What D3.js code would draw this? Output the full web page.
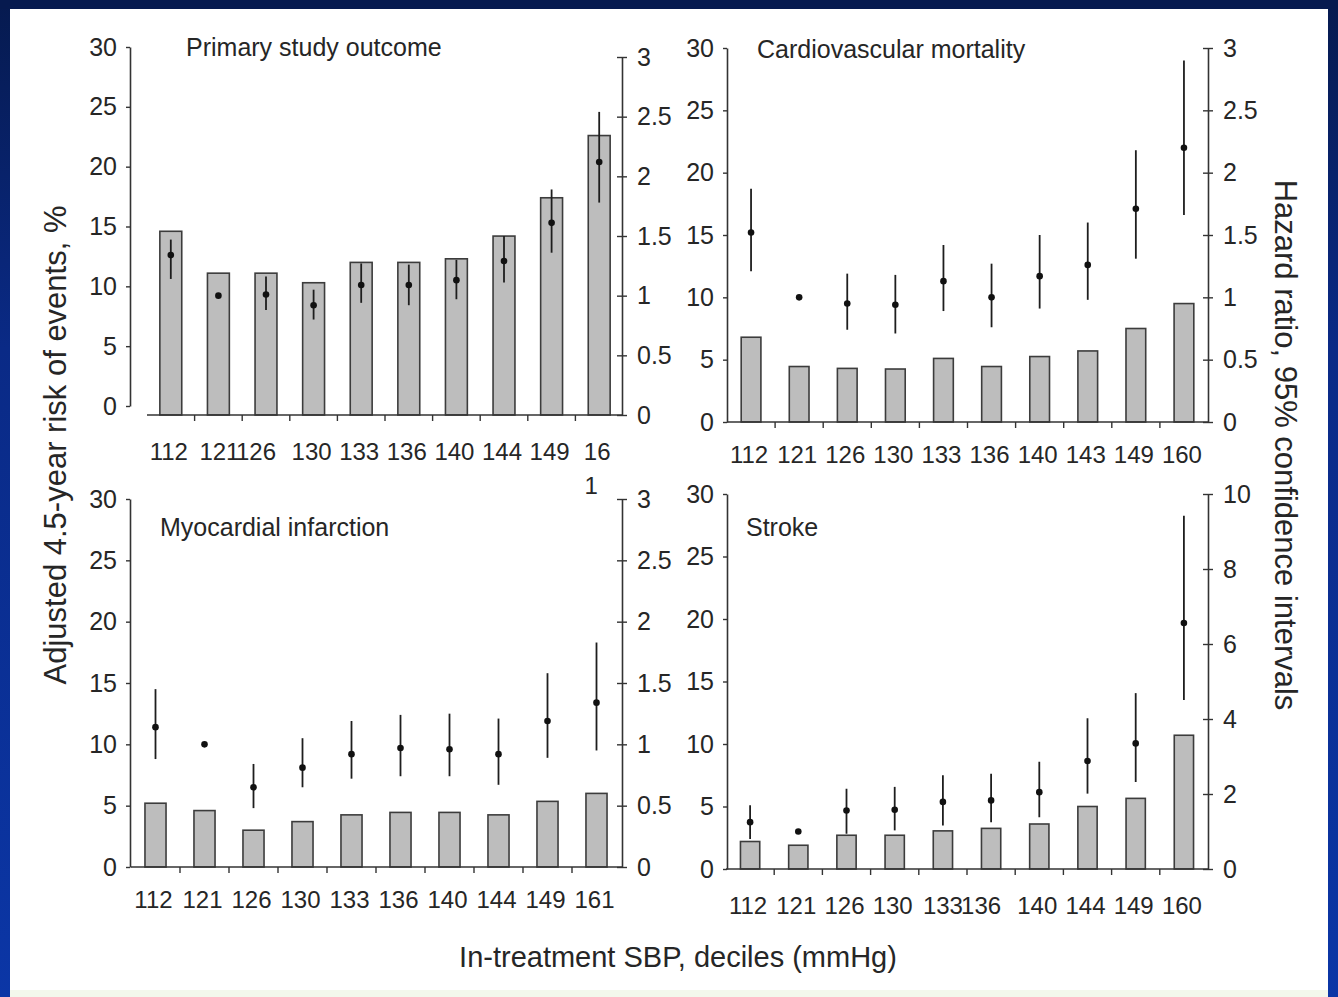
<!DOCTYPE html>
<html>
<head>
<meta charset="utf-8">
<script src="https://cdn.jsdelivr.net/npm/d3@7"></script>
<style>
  body { margin: 0; background: #fff; }
  .tick text { font-family: "Liberation Sans Narrow", "Arial Narrow", "Liberation Sans", Arial, sans-serif; fill: #262626; }
  .ttl { font-family: "Liberation Sans", Arial, sans-serif; fill: #262626; }
</style>
</head>
<body>
<script>
// values
// x categories = in-treatment SBP deciles (mmHg)
var primaryLabels = ["112", "121", "126", "130", "133", "136", "140", "144", "149", "161"];
var primaryRisk   = [14.6, 11.1, 11.1, 10.3, 12.0, 12.0, 12.3, 14.2, 17.4, 22.6];
var primaryHR     = [1.34, 1.00, 1.01, 0.92, 1.09, 1.09, 1.13, 1.29, 1.61, 2.12];
var primaryLo     = [1.14, 1.00, 0.88, 0.80, 0.94, 0.92, 0.97, 1.11, 1.36, 1.78];
var primaryHi     = [1.47, 1.00, 1.16, 1.05, 1.27, 1.26, 1.30, 1.50, 1.89, 2.54];

var cvLabels = ["112", "121", "126", "130", "133", "136", "140", "143", "149", "160"];
var cvRisk   = [6.8, 4.45, 4.3, 4.25, 5.1, 4.45, 5.25, 5.7, 7.5, 9.5];
var cvHR     = [1.52, 1.00, 0.95, 0.94, 1.13, 1.00, 1.17, 1.26, 1.71, 2.20];
var cvLo     = [1.21, 1.00, 0.74, 0.71, 0.89, 0.76, 0.91, 0.98, 1.31, 1.66];
var cvHi     = [1.87, 1.00, 1.19, 1.18, 1.42, 1.27, 1.50, 1.60, 2.18, 2.90];

var miLabels = ["112", "121", "126", "130", "133", "136", "140", "144", "149", "161"];
var miRisk   = [5.2, 4.6, 3.0, 3.7, 4.25, 4.45, 4.45, 4.25, 5.35, 6.0];
var miHR     = [1.14, 1.00, 0.65, 0.81, 0.92, 0.97, 0.96, 0.92, 1.19, 1.34];
var miLo     = [0.88, 1.00, 0.48, 0.65, 0.72, 0.74, 0.74, 0.67, 0.89, 0.95];
var miHi     = [1.45, 1.00, 0.84, 1.05, 1.19, 1.24, 1.25, 1.21, 1.58, 1.83];

var strokeLabels = ["112", "121", "126", "130", "133", "136", "140", "144", "149", "160"];
var strokeRisk   = [2.2, 1.9, 2.7, 2.7, 3.05, 3.25, 3.6, 5.0, 5.65, 10.7];
var strokeHR     = [1.25, 1.00, 1.56, 1.58, 1.79, 1.83, 2.05, 2.88, 3.35, 6.56];
var strokeLo     = [0.80, 1.00, 0.94, 1.03, 1.16, 1.25, 1.38, 2.01, 2.32, 4.51];
var strokeHi     = [1.70, 1.00, 2.14, 2.19, 2.50, 2.54, 2.86, 4.02, 4.69, 9.42];

var riskTicks = [0, 5, 10, 15, 20, 25, 30];
var hrTicks3  = [0, 0.5, 1, 1.5, 2, 2.5, 3];
var hrTicks10 = [0, 2, 4, 6, 8, 10];

var titles = ["Primary study outcome", "Cardiovascular mortality", "Myocardial infarction", "Stroke"];
var yTitleLeft  = "Adjusted 4.5-year risk of events, %";
var yTitleRight = "Hazard ratio, 95% confidence intervals";
var xTitle      = "In-treatment SBP, deciles (mmHg)";

// panel table (data + where each panel sits on the page)
var panels = [
  {title: titles[0], labels: primaryLabels, risk: primaryRisk, hr: primaryHR, lo: primaryLo, hi: primaryHi,
   hrMax: 3, hrTicks: hrTicks3,
   axL: 130, axR: 622, band: [147, 623], pad: 0.54, yL: [406, 47], yR: [415, 57], base: 415,
   labelDy: 37, tx: 186, ty: 48, nudge: {1: 3, 2: -8}, wrapLast: 2},
  {title: titles[1], labels: cvLabels, risk: cvRisk, hr: cvHR, lo: cvLo, hi: cvHi,
   hrMax: 3, hrTicks: hrTicks3,
   axL: 727, axR: 1208, band: [727, 1208], pad: 0.59, yL: [422, 48], yR: [422, 48], base: 422,
   labelDy: 33, tx: 757, ty: 50, nudge: {}},
  {title: titles[2], labels: miLabels, risk: miRisk, hr: miHR, lo: miLo, hi: miHi,
   hrMax: 3, hrTicks: hrTicks3,
   axL: 130, axR: 622, band: [131, 621], pad: 0.57, yL: [867, 499], yR: [867, 499], base: 867,
   labelDy: 33, tx: 160, ty: 528, nudge: {}},
  {title: titles[3], labels: strokeLabels, risk: strokeRisk, hr: strokeHR, lo: strokeLo, hi: strokeHi,
   hrMax: 10, hrTicks: hrTicks10,
   axL: 727, axR: 1208, band: [726, 1208], pad: 0.6, yL: [869, 494], yR: [869, 494], base: 869,
   labelDy: 37, tx: 746, ty: 528, nudge: {4: 2, 5: -8}}
];

var W = 1338, H = 997;
var svg = d3.select("body").append("svg")
    .attr("width", W)
    .attr("height", H);

// slide frame: navy border around a white area
var defs = svg.append("defs");
var grad = defs.append("linearGradient").attr("id", "frame")
    .attr("x1", 0).attr("y1", 0).attr("x2", 0).attr("y2", 1);
grad.append("stop").attr("offset", "0%").attr("stop-color", "#061a4f");
grad.append("stop").attr("offset", "35%").attr("stop-color", "#0a2a86");
grad.append("stop").attr("offset", "100%").attr("stop-color", "#0b36a6");
svg.append("rect").attr("width", W).attr("height", H).attr("fill", "url(#frame)");
svg.append("rect").attr("x", 0).attr("y", 0).attr("width", W).attr("height", 9).attr("fill", "#061a4f");
svg.append("rect").attr("x", 10).attr("y", 9).attr("width", W - 20).attr("height", H - 9).attr("fill", "#ffffff");
svg.append("rect").attr("x", 10).attr("y", 990).attr("width", W - 20).attr("height", 7).attr("fill", "#f3f8ec");

var fmt = d3.format("~g");

panels.forEach(function(p) {
  var g = svg.append("g");

  var x = d3.scaleBand()
      .domain(p.labels)
      .range(p.band)
      .paddingInner(p.pad)
      .paddingOuter(p.pad / 2);
  var yL = d3.scaleLinear().domain([0, 30]).range(p.yL);
  var yR = d3.scaleLinear().domain([0, p.hrMax]).range(p.yR);

  var rows = p.labels.map(function(l, i) {
    return {label: l, risk: p.risk[i], hr: p.hr[i], lo: p.lo[i], hi: p.hi[i]};
  });

  // bars (risk, left axis)
  g.selectAll(".bar")
    .data(rows)
    .enter().append("rect")
      .attr("class", "bar")
      .attr("x", function(d) { return x(d.label); })
      .attr("y", function(d) { return yL(d.risk); })
      .attr("width", x.bandwidth())
      .attr("height", function(d) { return p.base - yL(d.risk); })
      .attr("fill", "#bdbdbd")
      .attr("stroke", "#3c3c3c")
      .attr("stroke-width", 1.6);

  // baseline with small ticks between the bars
  g.append("line")
      .attr("x1", p.band[0]).attr("x2", p.axR)
      .attr("y1", p.base).attr("y2", p.base)
      .attr("stroke", "#333").attr("stroke-width", 1.6);
  g.selectAll(".xt")
    .data(p.labels.slice(1))
    .enter().append("line")
      .attr("x1", function(d) { return x(d) - x.step() * x.paddingInner() / 2; })
      .attr("x2", function(d) { return x(d) - x.step() * x.paddingInner() / 2; })
      .attr("y1", p.base).attr("y2", p.base + 6)
      .attr("stroke", "#333").attr("stroke-width", 1.4);

  // category labels
  g.selectAll(".xl")
    .data(rows)
    .enter().append("text")
      .attr("class", "tick")
      .each(function(d, i) {
        var t = d3.select(this).append("tspan");
        var cx = x(d.label) + x.bandwidth() / 2 - 2 + (p.nudge[i] || 0);
        var txt = d.label;
        if (p.wrapLast && i === rows.length - 1) {
          txt = d.label.slice(0, p.wrapLast);
          d3.select(this).append("tspan")
            .attr("x", cx - 6).attr("y", p.base + p.labelDy + 42)
            .attr("text-anchor", "middle")
            .text(d.label.slice(p.wrapLast));
        }
        t.attr("x", cx).attr("y", p.base + p.labelDy + 8)
          .attr("text-anchor", "middle")
          .text(txt);
      })
      .style("font-family", "'Liberation Sans Narrow', 'Arial Narrow', 'Liberation Sans', Arial, sans-serif")
      .style("font-size", "24px")
      .style("fill", "#262626");

  // hazard ratio with 95% CI (right axis)
  g.selectAll(".ci")
    .data(rows)
    .enter().append("line")
      .attr("x1", function(d) { return x(d.label) + x.bandwidth() / 2; })
      .attr("x2", function(d) { return x(d.label) + x.bandwidth() / 2; })
      .attr("y1", function(d) { return yR(d.hi); })
      .attr("y2", function(d) { return yR(d.lo); })
      .attr("stroke", "#1e1e1e")
      .attr("stroke-width", 1.8);
  g.selectAll(".pt")
    .data(rows)
    .enter().append("circle")
      .attr("cx", function(d) { return x(d.label) + x.bandwidth() / 2; })
      .attr("cy", function(d) { return yR(d.hr); })
      .attr("r", 3.3)
      .attr("fill", "#111");

  // left axis
  var la = g.append("g")
      .attr("transform", "translate(" + p.axL + ",0)")
      .call(d3.axisLeft(yL).tickValues(riskTicks).tickSize(4).tickSizeOuter(0).tickPadding(9));
  // right axis, ticks cross the line
  var ra = g.append("g")
      .attr("transform", "translate(" + p.axR + ",0)")
      .call(d3.axisRight(yR).tickValues(p.hrTicks).tickFormat(fmt).tickSize(5).tickSizeOuter(0).tickPadding(10));
  ra.selectAll(".tick line").attr("x1", -5);
  [la, ra].forEach(function(a) {
    a.select(".domain").attr("stroke", "#333").attr("stroke-width", 1.6);
    a.selectAll(".tick line").attr("stroke", "#333").attr("stroke-width", 1.4);
    a.selectAll(".tick text")
      .style("font-size", "25px")
      .attr("fill", "#262626");
  });

  // panel title
  g.append("text")
      .attr("class", "ttl")
      .attr("x", p.tx).attr("y", p.ty + 8)
      .style("font-size", "25px")
      .text(p.title);
});

// shared axis titles
svg.append("text")
    .attr("class", "ttl")
    .attr("transform", "translate(66,445) rotate(-90)")
    .attr("text-anchor", "middle")
    .style("font-size", "31px")
    .text(yTitleLeft);
svg.append("text")
    .attr("class", "ttl")
    .attr("transform", "translate(1275,445) rotate(90)")
    .attr("text-anchor", "middle")
    .style("font-size", "31px")
    .text(yTitleRight);
svg.append("text")
    .attr("class", "ttl")
    .attr("x", 678).attr("y", 967)
    .attr("text-anchor", "middle")
    .style("font-size", "29px")
    .text(xTitle);
</script>
</body>
</html>
